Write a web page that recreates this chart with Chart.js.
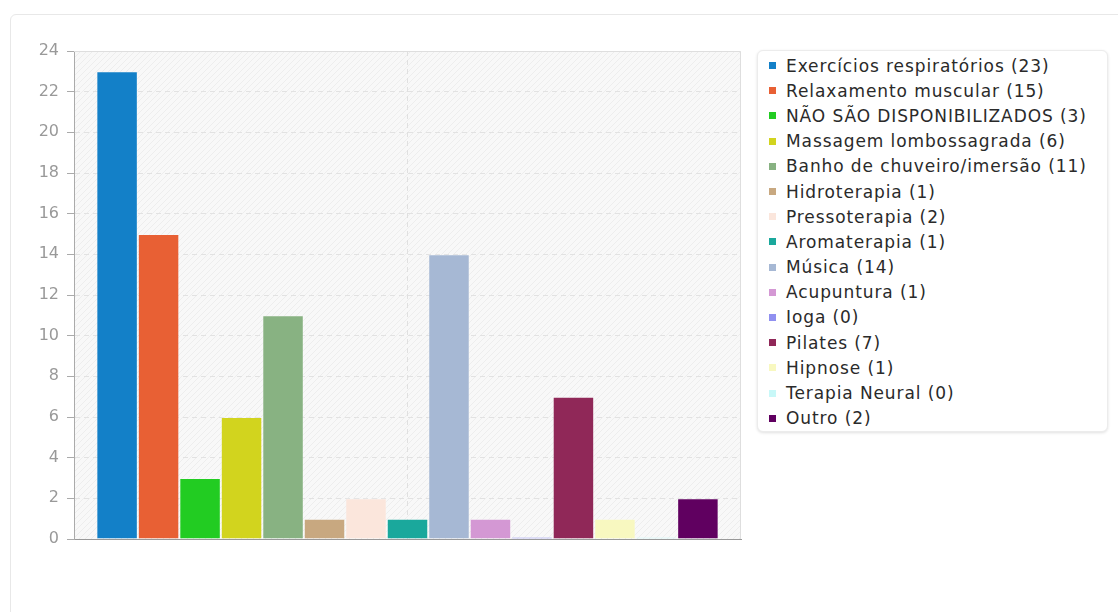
<!DOCTYPE html>
<html lang="pt-BR">
<head>
<meta charset="utf-8">
<title>Métodos não farmacológicos</title>
<script src="https://cdn.jsdelivr.net/npm/chart.js@4.4.0/dist/chart.umd.min.js"></script>
<style>
  body { margin: 0; background: #fff; font-family: 'DejaVu Sans', sans-serif; overflow: hidden; }
  .card {
    position: absolute; left: 10px; top: 14px; width: 1130px; height: 620px;
    border: 1px solid #e8e8e8; border-radius: 6px; box-sizing: border-box;
  }
  #wrap { position: absolute; left: 0; top: 0; width: 742px; height: 560px; }
  #legend {
    position: absolute; left: 757px; top: 50px; width: 351px; height: 382px;
    box-sizing: border-box; border: 1px solid #ececec; border-radius: 6px;
    box-shadow: 0 1px 3px rgba(0,0,0,0.12); background: #fff;
    padding-top: 2px;
  }
  .item {
    display: flex; align-items: center; height: 25.2px;
    font-size: 17px; letter-spacing: 0.9px; color: #2a2a2a; white-space: nowrap;
  }
  .item span.box { width: 7px; height: 7px; margin-left: 11px; margin-right: 10px; flex: none; }
</style>
</head>
<body>
<div class="card"></div>
<div id="wrap"><canvas id="chart"></canvas></div>
<div id="legend"></div>

<script>
// métodos oferecidos e número de respostas
const categories = [''];
const methods = [
  'Exercícios respiratórios', 'Relaxamento muscular', 'NÃO SÃO DISPONIBILIZADOS',
  'Massagem lombossagrada', 'Banho de chuveiro/imersão', 'Hidroterapia', 'Pressoterapia',
  'Aromaterapia', 'Música', 'Acupuntura', 'Ioga', 'Pilates', 'Hipnose', 'Terapia Neural', 'Outro'
];
const counts = [23, 15, 3, 6, 11, 1, 2, 1, 14, 1, 0, 7, 1, 0, 2];
const colors = [
  '#1380c8', '#e86034', '#22cc22', '#d2d41e', '#88b282', '#c8a880', '#fbe6dc',
  '#1aa89c', '#a6b8d4', '#d498d4', '#9090f0', '#902858', '#f8f8c0', '#c8f8f8', '#600060'
];
const yTicks = [0, 2, 4, 6, 8, 10, 12, 14, 16, 18, 20, 22, 24];

// fundo listrado da área do gráfico + bordas de cima e da direita
function hatchPattern(ctx) {
  const c = document.createElement('canvas');
  c.width = 6; c.height = 6;
  const g = c.getContext('2d');
  g.fillStyle = '#f8f8f8';
  g.fillRect(0, 0, 6, 6);
  g.strokeStyle = '#ededed';
  g.lineWidth = 1;
  g.beginPath();
  g.moveTo(0, 6); g.lineTo(6, 0);
  g.moveTo(-1, 1); g.lineTo(1, -1);
  g.moveTo(5, 7); g.lineTo(7, 5);
  g.stroke();
  return ctx.createPattern(c, 'repeat');
}

const plotBackground = {
  id: 'plotBackground',
  beforeDraw(chart) {
    const { ctx, chartArea: a } = chart;
    ctx.save();
    ctx.fillStyle = hatchPattern(ctx);
    ctx.fillRect(a.left, a.top, a.width, a.height);
    ctx.restore();
  },
  afterDraw(chart) {
    const { ctx, chartArea: a } = chart;
    ctx.save();
    ctx.strokeStyle = '#dedede';
    ctx.lineWidth = 1;
    ctx.beginPath();
    ctx.moveTo(a.left, a.top + 0.5);
    ctx.lineTo(a.right - 0.5, a.top + 0.5);
    ctx.lineTo(a.right - 0.5, a.bottom);
    ctx.stroke();
    ctx.restore();
  }
};

const datasets = methods.map((name, i) => ({
  label: name,
  data: [counts[i]],
  backgroundColor: colors[i],
  borderColor: 'rgba(255,255,255,0.22)',
  borderWidth: { top: 1, left: 1, right: 1, bottom: 0 },
  minBarLength: 2,
  categoryPercentage: 0.933,
  barPercentage: 1
}));

const chart = new Chart(document.getElementById('chart'), {
  type: 'bar',
  data: { labels: categories, datasets: datasets },
  options: {
    responsive: true,
    maintainAspectRatio: false,
    animation: false,
    layout: { padding: { top: 51, right: 1, left: 0, bottom: 0 } },
    plugins: {
      legend: { display: false },
      tooltip: { enabled: false }
    },
    scales: {
      x: {
        ticks: { display: false },
        grid: { offset: false, color: '#e0e0e0', drawTicks: false },
        border: { color: '#999', dash: [5, 4] },
        afterFit: s => { s.height = 21; }
      },
      y: {
        min: 0,
        max: 24,
        afterBuildTicks: s => { s.ticks = yTicks.map(v => ({ value: v })); },
        ticks: {
          color: '#999',
          padding: 8,
          font: { family: 'DejaVu Sans', size: 16 }
        },
        grid: { color: '#e2e2e2', tickLength: 7, tickColor: '#aaa' },
        border: { color: '#aaa', dash: [5, 4] },
        afterFit: s => { s.width = 74; }
      }
    }
  },
  plugins: [plotBackground]
});

// legenda com os totais
const legend = document.getElementById('legend');
chart.data.datasets.forEach(ds => {
  const row = document.createElement('div');
  row.className = 'item';
  row.innerHTML = `<span class="box" style="background:${ds.backgroundColor}"></span>${ds.label} (${ds.data[0]})`;
  legend.appendChild(row);
});
</script>
</body>
</html>
